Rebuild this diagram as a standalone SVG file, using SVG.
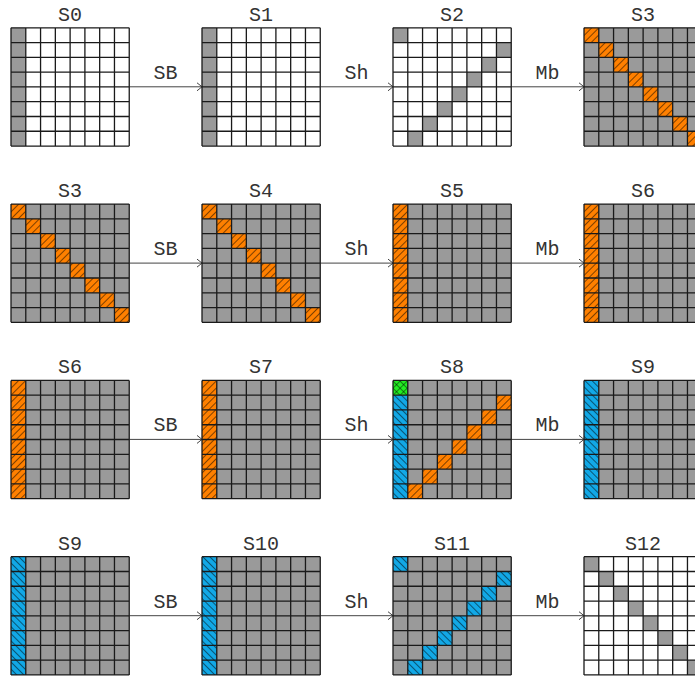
<svg xmlns="http://www.w3.org/2000/svg" xmlns:xlink="http://www.w3.org/1999/xlink" width="695" height="677" viewBox="0 0 695 677">
<style>
.t{font-family:"Liberation Mono","DejaVu Sans Mono",monospace;font-size:20px;fill:#333;text-anchor:middle}
.g{fill:#9a9a9a}
.w{fill:#ffffff}
.o{fill:url(#ne)}
.b{fill:url(#nw)}
.x{fill:url(#cross)}
.ln{fill:none;stroke:#1a1a1a;stroke-width:1.3}
.con{fill:none;stroke:#444;stroke-width:1}
</style>
<defs>
<pattern id="ne" patternUnits="userSpaceOnUse" width="5" height="5" patternTransform="rotate(45)">
<rect width="5" height="5" fill="#ff8000"/>
<line x1="0" y1="0" x2="0" y2="5" stroke="#000" stroke-width="1"/>
</pattern>
<pattern id="nw" patternUnits="userSpaceOnUse" width="5" height="5" patternTransform="rotate(-45)">
<rect width="5" height="5" fill="#12a8e6"/>
<line x1="0" y1="0" x2="0" y2="5" stroke="#000" stroke-width="1"/>
</pattern>
<pattern id="cross" patternUnits="userSpaceOnUse" width="5" height="5" patternTransform="rotate(45)">
<rect width="5" height="5" fill="#22ee22"/>
<line x1="0" y1="0" x2="0" y2="5" stroke="#000" stroke-width="0.9"/>
<line x1="0" y1="0" x2="5" y2="0" stroke="#000" stroke-width="0.9"/>
</pattern>
<path id="lines" class="ln" d="M0 0H118.24M0 14.78H118.24M0 29.56H118.24M0 44.34H118.24M0 59.12H118.24M0 73.9H118.24M0 88.68H118.24M0 103.46H118.24M0 118.24H118.24M0 0V118.24M14.78 0V118.24M29.56 0V118.24M44.34 0V118.24M59.12 0V118.24M73.9 0V118.24M88.68 0V118.24M103.46 0V118.24M118.24 0V118.24"/>
<rect id="full" width="118.24" height="118.24"/>
<rect id="col0" width="14.78" height="118.24"/>
<g id="diag">
<rect x="0" y="0" width="14.78" height="14.78"/>
<rect x="14.78" y="14.78" width="14.78" height="14.78"/>
<rect x="29.56" y="29.56" width="14.78" height="14.78"/>
<rect x="44.34" y="44.34" width="14.78" height="14.78"/>
<rect x="59.12" y="59.12" width="14.78" height="14.78"/>
<rect x="73.9" y="73.9" width="14.78" height="14.78"/>
<rect x="88.68" y="88.68" width="14.78" height="14.78"/>
<rect x="103.46" y="103.46" width="14.78" height="14.78"/>
</g>
<g id="anti">
<rect x="103.46" y="14.78" width="14.78" height="14.78"/>
<rect x="88.68" y="29.56" width="14.78" height="14.78"/>
<rect x="73.9" y="44.34" width="14.78" height="14.78"/>
<rect x="59.12" y="59.12" width="14.78" height="14.78"/>
<rect x="44.34" y="73.9" width="14.78" height="14.78"/>
<rect x="29.56" y="88.68" width="14.78" height="14.78"/>
<rect x="14.78" y="103.46" width="14.78" height="14.78"/>
</g>
<rect id="c00" width="14.78" height="14.78"/>
<path id="ah" d="M-5 -4L0 0L-5 4" fill="none" stroke="#444" stroke-width="1"/>
</defs>

<g id="connectors">
<path class="con" d="M129.2 86.8H202M320.2 86.8H393M511.2 86.8H584"/>
<path class="con" d="M129.2 263.1H202M320.2 263.1H393M511.2 263.1H584"/>
<path class="con" d="M129.2 439.4H202M320.2 439.4H393M511.2 439.4H584"/>
<path class="con" d="M129.2 615.7H202M320.2 615.7H393M511.2 615.7H584"/>
<use xlink:href="#ah" x="202" y="86.8"/><use xlink:href="#ah" x="393" y="86.8"/><use xlink:href="#ah" x="584" y="86.8"/>
<use xlink:href="#ah" x="202" y="263.1"/><use xlink:href="#ah" x="393" y="263.1"/><use xlink:href="#ah" x="584" y="263.1"/>
<use xlink:href="#ah" x="202" y="439.4"/><use xlink:href="#ah" x="393" y="439.4"/><use xlink:href="#ah" x="584" y="439.4"/>
<use xlink:href="#ah" x="202" y="615.7"/><use xlink:href="#ah" x="393" y="615.7"/><use xlink:href="#ah" x="584" y="615.7"/>
<text class="t" x="165.6" y="78.6">SB</text><text class="t" x="356.6" y="78.6">Sh</text><text class="t" x="547.6" y="78.6">Mb</text>
<text class="t" x="165.6" y="254.9">SB</text><text class="t" x="356.6" y="254.9">Sh</text><text class="t" x="547.6" y="254.9">Mb</text>
<text class="t" x="165.6" y="431.2">SB</text><text class="t" x="356.6" y="431.2">Sh</text><text class="t" x="547.6" y="431.2">Mb</text>
<text class="t" x="165.6" y="607.5">SB</text><text class="t" x="356.6" y="607.5">Sh</text><text class="t" x="547.6" y="607.5">Mb</text>
</g>

<!-- Row 1 -->
<g id="r1S0" transform="translate(11,27.8)">
<use xlink:href="#full" class="w"/><use xlink:href="#col0" class="g"/><use xlink:href="#lines"/>
<text class="t" x="59.12" y="-7">S0</text></g>
<g id="r1S1" transform="translate(202,27.8)">
<use xlink:href="#full" class="w"/><use xlink:href="#col0" class="g"/><use xlink:href="#lines"/>
<text class="t" x="59.12" y="-7">S1</text></g>
<g id="r1S2" transform="translate(393,27.8)">
<use xlink:href="#full" class="w"/><use xlink:href="#c00" class="g"/><use xlink:href="#anti" class="g"/><use xlink:href="#lines"/>
<text class="t" x="59.12" y="-7">S2</text></g>
<g id="r1S3" transform="translate(584,27.8)">
<use xlink:href="#full" class="g"/><use xlink:href="#diag" class="o"/><use xlink:href="#lines"/>
<text class="t" x="59.12" y="-7">S3</text></g>

<!-- Row 2 -->
<g id="r2S3" transform="translate(11,204.1)">
<use xlink:href="#full" class="g"/><use xlink:href="#diag" class="o"/><use xlink:href="#lines"/>
<text class="t" x="59.12" y="-7">S3</text></g>
<g id="r2S4" transform="translate(202,204.1)">
<use xlink:href="#full" class="g"/><use xlink:href="#diag" class="o"/><use xlink:href="#lines"/>
<text class="t" x="59.12" y="-7">S4</text></g>
<g id="r2S5" transform="translate(393,204.1)">
<use xlink:href="#full" class="g"/><use xlink:href="#col0" class="o"/><use xlink:href="#lines"/>
<text class="t" x="59.12" y="-7">S5</text></g>
<g id="r2S6" transform="translate(584,204.1)">
<use xlink:href="#full" class="g"/><use xlink:href="#col0" class="o"/><use xlink:href="#lines"/>
<text class="t" x="59.12" y="-7">S6</text></g>

<!-- Row 3 -->
<g id="r3S6" transform="translate(11,380.4)">
<use xlink:href="#full" class="g"/><use xlink:href="#col0" class="o"/><use xlink:href="#lines"/>
<text class="t" x="59.12" y="-7">S6</text></g>
<g id="r3S7" transform="translate(202,380.4)">
<use xlink:href="#full" class="g"/><use xlink:href="#col0" class="o"/><use xlink:href="#lines"/>
<text class="t" x="59.12" y="-7">S7</text></g>
<g id="r3S8" transform="translate(393,380.4)">
<use xlink:href="#full" class="g"/><use xlink:href="#col0" class="b"/><use xlink:href="#c00" class="x"/><use xlink:href="#anti" class="o"/><use xlink:href="#lines"/>
<text class="t" x="59.12" y="-7">S8</text></g>
<g id="r3S9" transform="translate(584,380.4)">
<use xlink:href="#full" class="g"/><use xlink:href="#col0" class="b"/><use xlink:href="#lines"/>
<text class="t" x="59.12" y="-7">S9</text></g>

<!-- Row 4 -->
<g id="r4S9" transform="translate(11,556.7)">
<use xlink:href="#full" class="g"/><use xlink:href="#col0" class="b"/><use xlink:href="#lines"/>
<text class="t" x="59.12" y="-7">S9</text></g>
<g id="r4S10" transform="translate(202,556.7)">
<use xlink:href="#full" class="g"/><use xlink:href="#col0" class="b"/><use xlink:href="#lines"/>
<text class="t" x="59.12" y="-7">S10</text></g>
<g id="r4S11" transform="translate(393,556.7)">
<use xlink:href="#full" class="g"/><use xlink:href="#c00" class="b"/><use xlink:href="#anti" class="b"/><use xlink:href="#lines"/>
<text class="t" x="59.12" y="-7">S11</text></g>
<g id="r4S12" transform="translate(584,556.7)">
<use xlink:href="#full" class="w"/><use xlink:href="#diag" class="g"/><use xlink:href="#lines"/>
<text class="t" x="59.12" y="-7">S12</text></g>
</svg>
